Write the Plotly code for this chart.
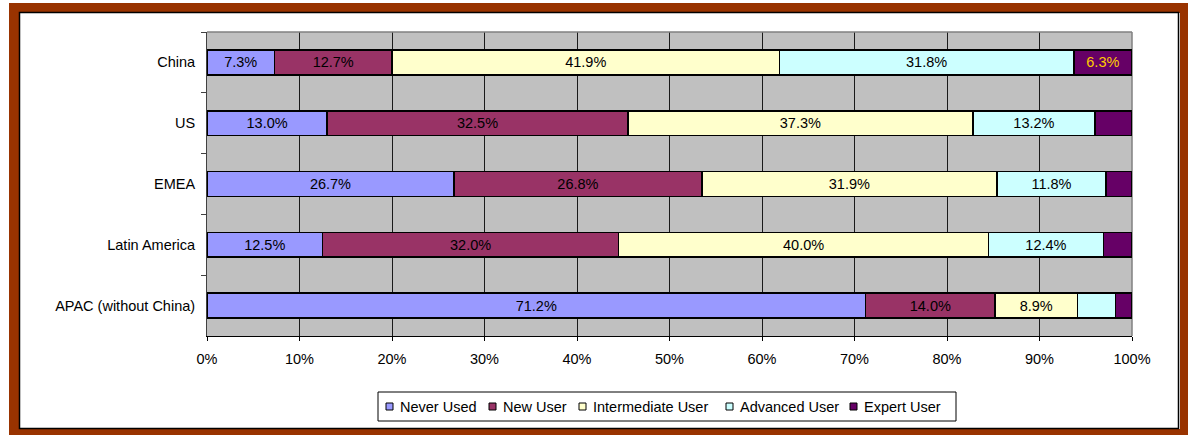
import plotly.graph_objects as go

# Regions, top to bottom
regions = ["China", "US", "EMEA", "Latin America", "APAC (without China)"]

# Share of respondents by experience level (%)
series_names = ["Never Used", "New User", "Intermediate User", "Advanced User", "Expert User"]
never_used = [7.3, 13.0, 26.7, 12.5, 71.2]
new_user = [12.7, 32.5, 26.8, 32.0, 14.0]
intermediate_user = [41.9, 37.3, 31.9, 40.0, 8.9]
advanced_user = [31.8, 13.2, 11.8, 12.4, 4.1]
expert_user = [6.3, 4.0, 2.8, 3.1, 1.8]

x_ticks = [0, 10, 20, 30, 40, 50, 60, 70, 80, 90, 100]

series_values = [never_used, new_user, intermediate_user, advanced_user, expert_user]
colors = ["#9999FF", "#993366", "#FFFFCC", "#CCFFFF", "#660066"]
label_colors = ["#000000", "#000000", "#000000", "#000000", "#FFCC00"]

FONT = "Arial, Liberation Sans, sans-serif"
FS = 14.5

# Figure geometry (pixels)
W, H = 1188, 435
L, R, T, B = 207, 1132, 32, 336
PW, PH = R - L, B - T


def px(x):
    return (x - L) / PW


def py(y):
    return (B - y) / PH


fig = go.Figure()

for name, vals, col, lc in zip(series_names, series_values, colors, label_colors):
    # small segments carry no label
    labels = [f"{v:.1f}%" if v >= 5 else "" for v in vals]
    fig.add_trace(go.Bar(
        name=name,
        y=regions,
        x=vals,
        orientation="h",
        marker=dict(color=col, line=dict(color="#000000", width=1.6)),
        text=labels,
        textposition="inside",
        insidetextanchor="middle",
        textangle=0,
        textfont=dict(family=FONT, size=FS, color=lc),
        hoverinfo="skip",
        showlegend=False,
    ))

shapes = []
annotations = []

# Brown outer frame with a thin dark inner edge
shapes.append(dict(type="rect", xref="paper", yref="paper",
                   x0=px(14), x1=px(1185), y0=py(8), y1=py(434),
                   line=dict(color="#993300", width=10), fillcolor="rgba(0,0,0,0)",
                   layer="above"))
shapes.append(dict(type="rect", xref="paper", yref="paper",
                   x0=px(19.5), x1=px(1178.5), y0=py(12.5), y1=py(428.5),
                   line=dict(color="#000000", width=1.5), fillcolor="rgba(0,0,0,0)",
                   layer="above"))

# Grey top and right edges of the plot area
shapes.append(dict(type="line", xref="paper", yref="paper", x0=0, x1=1, y0=1, y1=1,
                   line=dict(color="#808080", width=1.5), layer="above"))
shapes.append(dict(type="line", xref="paper", yref="paper", x0=1, x1=1, y0=0, y1=1,
                   line=dict(color="#808080", width=1.5), layer="below"))

# Legend box
shapes.append(dict(type="rect", xref="paper", yref="paper",
                   x0=px(378), x1=px(956), y0=py(392), y1=py(421),
                   line=dict(color="#000000", width=1), fillcolor="#FFFFFF"))
legend_marker_left = [386, 489, 579, 726, 850]
ly = 406.5
for name, col, mx in zip(series_names, colors, legend_marker_left):
    shapes.append(dict(type="rect", xref="paper", yref="paper",
                       x0=px(mx), x1=px(mx + 7), y0=py(ly - 3.5), y1=py(ly + 3.5),
                       line=dict(color="#000000", width=1), fillcolor=col))
    annotations.append(dict(xref="paper", yref="paper", x=px(mx + 12), y=py(ly),
                            xanchor="left", yanchor="middle", showarrow=False,
                            text=name, font=dict(family=FONT, size=FS, color="#000000")))

fig.update_layout(
    width=W, height=H,
    margin=dict(l=L, r=W - R, t=T, b=H - B, pad=0),
    barmode="stack",
    bargap=0.59,
    paper_bgcolor="#FFFFFF",
    plot_bgcolor="#C0C0C0",
    font=dict(family=FONT, size=FS, color="#000000"),
    shapes=shapes,
    annotations=annotations,
    showlegend=False,
    xaxis=dict(
        range=[0, 100],
        tickvals=x_ticks,
        ticktext=[f"{t}%" for t in x_ticks],
        showgrid=True, gridcolor="#1a1a1a", gridwidth=1,
        zeroline=False,
        showline=True, linecolor="#000000", linewidth=1,
        ticks="outside", ticklen=4, tickcolor="#000000",
        ticklabelstandoff=6,
        tickfont=dict(family=FONT, size=FS, color="#000000"),
        fixedrange=True,
    ),
    yaxis=dict(
        categoryorder="array",
        categoryarray=regions,
        autorange="reversed",
        showgrid=False,
        zeroline=False,
        showline=True, linecolor="#404040", linewidth=1,
        ticks="outside", tickson="boundaries", ticklen=5, tickcolor="#404040",
        ticklabelstandoff=8,
        tickfont=dict(family=FONT, size=FS, color="#000000"),
        fixedrange=True,
    ),
)

fig.write_html("out.html")
